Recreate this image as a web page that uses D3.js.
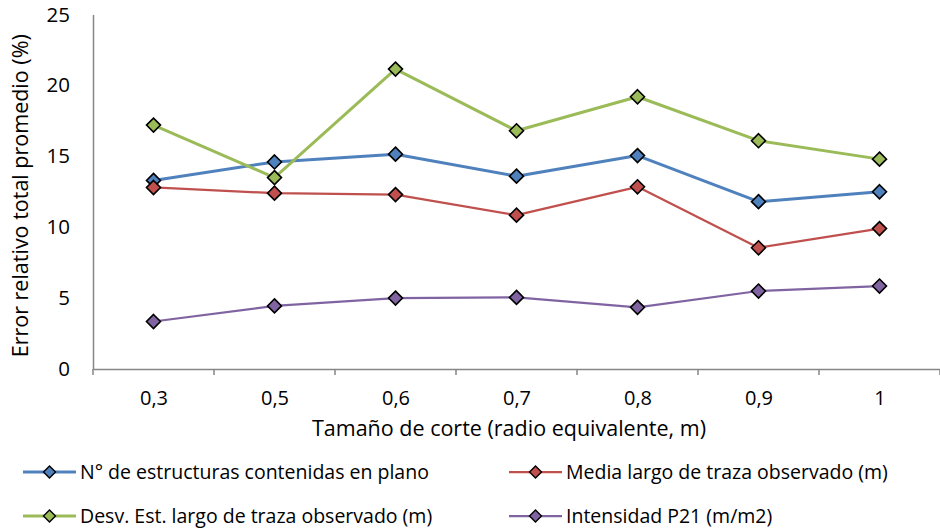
<!DOCTYPE html>
<html>
<head>
<meta charset="utf-8">
<script src="https://cdn.jsdelivr.net/npm/d3@7"></script>
<style>
  html, body { margin: 0; padding: 0; background: #fff; }
  svg { display: block; font-family: "Open Sans", sans-serif; }
</style>
</head>
<body>
<svg id="chart" width="940" height="531"></svg>
<script>
const categories = ["0,3", "0,5", "0,6", "0,7", "0,8", "0,9", "1"];
const estructuras = [13.3, 14.6, 15.15, 13.6, 15.05, 11.8, 12.5];
const mediaLargo = [12.8, 12.4, 12.3, 10.85, 12.85, 8.55, 9.9];
const desvLargo = [17.2, 13.5, 21.15, 16.8, 19.2, 16.1, 14.8];
const intensidad = [3.35, 4.45, 5.0, 5.05, 4.35, 5.5, 5.85];
const yTicks = [0, 5, 10, 15, 20, 25];

const seriesNames = [
  "N° de estructuras contenidas en plano",
  "Media largo de traza observado (m)",
  "Desv. Est. largo de traza observado (m)",
  "Intensidad P21 (m/m2)"
];
const seriesValues = [estructuras, mediaLargo, desvLargo, intensidad];
const seriesColors = ["#4F81BD", "#C0504D", "#9BBB59", "#8064A2"];
const seriesWidths = [3, 2.25, 3, 2.25];

(function () {
const svg = d3.select("#chart");
const pLeft = 93, pRight = 940, pTop = 14.5, pBottom = 369;

const xBand = d3.scaleBand().domain(categories).range([pLeft, pRight]).paddingInner(0).paddingOuter(0);
const xPt = d3.scalePoint().domain(categories).range([pLeft, pRight]).padding(0.5);
const y = d3.scaleLinear().domain([0, 25]).range([pBottom, pTop]);

const axisColor = "#868686";

// y axis
const yAxis = svg.append("g").attr("transform", `translate(${pLeft},0)`)
  .call(d3.axisLeft(y).tickValues(yTicks).tickSize(0).tickPadding(23).tickFormat(d3.format("d")));
yAxis.select(".domain").attr("stroke", axisColor).attr("stroke-width", 1.5);
yAxis.selectAll("text").attr("font-size", 20.5).attr("fill", "#000").attr("font-family", "Open Sans");

// x axis
const xAxis = svg.append("g").attr("transform", `translate(0,${pBottom})`)
  .call(d3.axisBottom(xPt).tickSize(0).tickPadding(22));
xAxis.select(".domain").attr("stroke", axisColor).attr("stroke-width", 1.5);
xAxis.selectAll("text").attr("font-size", 20).attr("fill", "#000").attr("font-family", "Open Sans");

// boundary tick marks
const edges = categories.map(c => xBand(c)).concat([xBand(categories[categories.length - 1]) + xBand.bandwidth()]);
svg.append("g").selectAll("line").data(edges).join("line")
  .attr("x1", d => d).attr("x2", d => d)
  .attr("y1", pBottom).attr("y2", pBottom + 6)
  .attr("stroke", axisColor).attr("stroke-width", 1.5);

// titles
svg.append("text")
  .attr("transform", `translate(28,${(pTop + pBottom) / 2 + 4}) rotate(-90)`)
  .attr("text-anchor", "middle").attr("font-size", 21.5).attr("fill", "#000")
  .text("Error relativo total promedio (%)");
svg.append("text")
  .attr("x", 509).attr("y", 436)
  .attr("text-anchor", "middle").attr("font-size", 21.5).attr("fill", "#000")
  .text("Tamaño de corte (radio equivalente, m)");

function diamond(cx, cy, r) {
  return `M${cx},${cy - r}L${cx + r},${cy}L${cx},${cy + r}L${cx - r},${cy}Z`;
}

// series
const line = d3.line().x((d, i) => xPt(categories[i])).y(d => y(d));
seriesValues.forEach((vals, si) => {
  const g = svg.append("g");
  g.append("path").datum(vals).attr("d", line)
    .attr("fill", "none").attr("stroke", seriesColors[si]).attr("stroke-width", seriesWidths[si])
    .attr("stroke-linejoin", "round");
  g.selectAll("path.m").data(vals).join("path").attr("class", "m")
    .attr("d", (d, i) => diamond(xPt(categories[i]), y(d), 7))
    .attr("fill", seriesColors[si]).attr("stroke", "#000").attr("stroke-width", 1.6);
});

// legend
const legendPos = [
  { x: 23, y: 472 }, { x: 509, y: 472 },
  { x: 23, y: 516 }, { x: 509, y: 516 }
];
seriesNames.forEach((name, si) => {
  const p = legendPos[si];
  const g = svg.append("g");
  g.append("line").attr("x1", p.x).attr("x2", p.x + 53).attr("y1", p.y).attr("y2", p.y)
    .attr("stroke", seriesColors[si]).attr("stroke-width", seriesWidths[si]);
  g.append("path").attr("d", diamond(p.x + 26.5, p.y, 6))
    .attr("fill", seriesColors[si]).attr("stroke", "#000").attr("stroke-width", 1.4);
  g.append("text").attr("x", p.x + 57).attr("y", p.y).attr("dy", "0.35em")
    .attr("font-size", 19.5).attr("fill", "#000").text(name);
});
})();
</script>
</body>
</html>
